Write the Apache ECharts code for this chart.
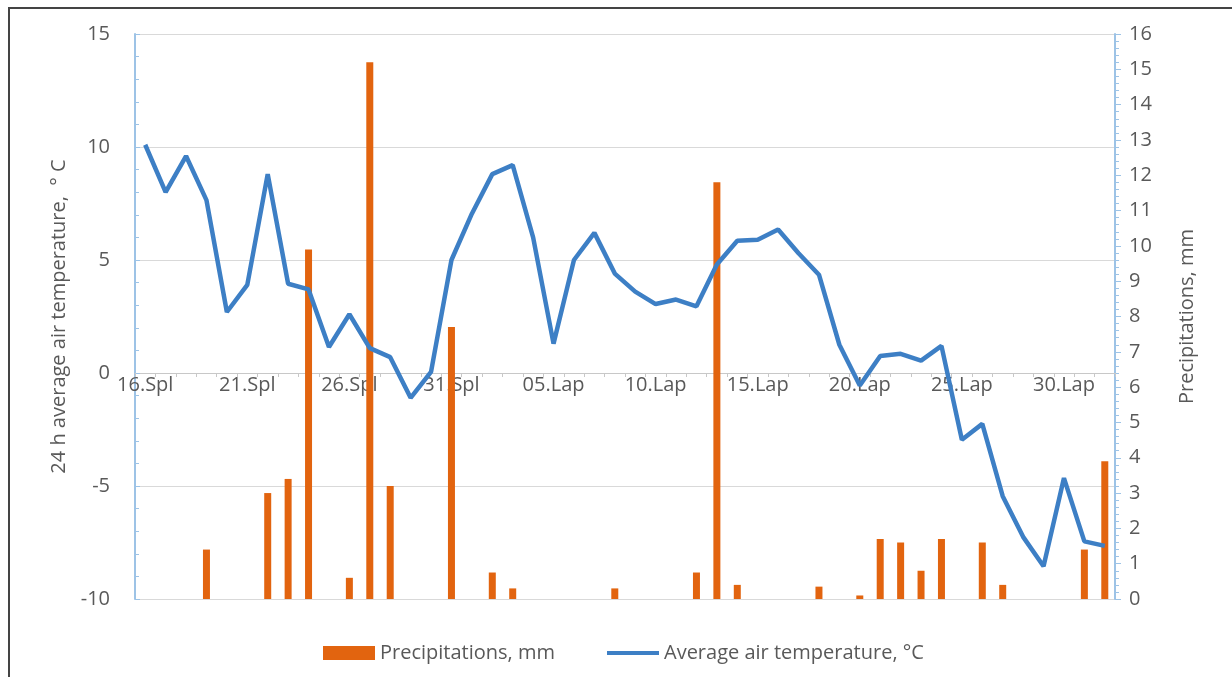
<!DOCTYPE html>
<html>
<head>
<meta charset="utf-8">
<script src="https://cdn.jsdelivr.net/npm/echarts@6/dist/echarts.min.js"></script>
<style>
  html, body { margin: 0; padding: 0; background: #fff; overflow: hidden; }
  #frame { position: absolute; left: 8px; top: 7px; width: 1400px; height: 800px;
           border-left: 2px solid #444; border-top: 2px solid #444; }
  #chart { position: absolute; left: 0; top: 0; width: 1232px; height: 677px; }
</style>
</head>
<body>
<div id="frame"></div>
<div id="chart"></div>
<script>
// days: 16 Oct (Spl) .. 2 Dec (Grd)
const days = [
  '16.Spl', '17.Spl', '18.Spl', '19.Spl', '20.Spl', '21.Spl', '22.Spl', '23.Spl',
  '24.Spl', '25.Spl', '26.Spl', '27.Spl', '28.Spl', '29.Spl', '30.Spl', '31.Spl',
  '01.Lap', '02.Lap', '03.Lap', '04.Lap', '05.Lap', '06.Lap', '07.Lap', '08.Lap',
  '09.Lap', '10.Lap', '11.Lap', '12.Lap', '13.Lap', '14.Lap', '15.Lap', '16.Lap',
  '17.Lap', '18.Lap', '19.Lap', '20.Lap', '21.Lap', '22.Lap', '23.Lap', '24.Lap',
  '25.Lap', '26.Lap', '27.Lap', '28.Lap', '29.Lap', '30.Lap', '01.Grd', '02.Grd'
]

// 24 h average air temperature, °C
const temperature = [
  10.1, 8.0, 9.6, 7.65, 2.7, 3.9, 8.8, 3.95, 3.7, 1.15,
  2.6, 1.1, 0.7, -1.1, 0.05, 5.0, 7.05, 8.8, 9.2, 6.0,
  1.3, 5.0, 6.2, 4.4, 3.6, 3.05, 3.25, 2.95, 4.8, 5.85,
  5.9, 6.35, 5.3, 4.35, 1.25, -0.55, 0.75, 0.85, 0.55, 1.2,
  -2.95, -2.25, -5.45, -7.25, -8.55, -4.65, -7.45, -7.65
]

// precipitations, mm
const precipitation = [
  0, 0, 0, 1.4, 0, 0, 3.0, 3.4, 9.9, 0,
  0.6, 15.2, 3.2, 0, 0, 7.7, 0, 0.75, 0.3, 0,
  0, 0, 0, 0.3, 0, 0, 0, 0.75, 11.8, 0.4,
  0, 0, 0, 0.35, 0, 0.1, 1.7, 1.6, 0.8, 1.7,
  0, 1.6, 0.4, 0, 0, 0, 1.4, 3.9
]

const legendNames = ['Precipitations, mm', 'Average air temperature, °C']

const font = '"Open Sans", sans-serif'
const textColor = '#595959'
const axisBlue = '#9DC3E6'
const barColor = '#E2640F'
const lineColor = '#3D7FC5'

const chart = echarts.init(document.getElementById('chart'))

const option = {
  backgroundColor: 'transparent',
  animation: false,
  textStyle: { fontFamily: font },
  grid: {
    left: 135,
    right: 117,
    top: 34,
    bottom: 78,
  },
  legend: {
    data: [
      { name: legendNames[0], icon: 'rect' },
      {
        name: legendNames[1],
        itemStyle: { opacity: 0 },
        lineStyle: { width: 4, color: lineColor },
      },
    ],
    left: 318,
    top: 638,
    itemWidth: 52,
    itemHeight: 14,
    itemGap: 50,
    textStyle: { color: textColor, fontSize: 20, fontFamily: font },
  },
  xAxis: {
    type: 'category',
    data: days,
    boundaryGap: true,
    position: 'bottom',
    offset: -226, // category axis crosses the temperature axis at 0
    axisLine: {
      onZero: false,
      lineStyle: { color: '#C8C8C8', width: 1 },
    },
    axisTick: {
      show: true,
      interval: 0,
      length: 4,
      lineStyle: { color: '#C8C8C8' },
    },
    axisLabel: {
      interval: 4,
      color: textColor,
      fontSize: 20,
      margin: 2,
      fontFamily: font,
    },
    splitLine: { show: false },
  },
  yAxis: [
    {
      type: 'value',
      min: -10,
      max: 15,
      interval: 5,
      name: '24 h average air temperature,  ° C',
      nameLocation: 'middle',
      nameGap: 64,
      nameTextStyle: { color: textColor, fontSize: 20, fontFamily: font },
      axisLine: { show: true, lineStyle: { color: axisBlue, width: 2 } },
      axisTick: { show: true, inside: true, length: 5, lineStyle: { color: axisBlue } },
      minorTick: { show: true, splitNumber: 5, length: 4, lineStyle: { color: axisBlue } },
      axisLabel: { color: textColor, fontSize: 20, margin: 25, fontFamily: font },
      splitLine: { show: true, lineStyle: { color: '#D9D9D9', width: 1 } },
    },
    {
      type: 'value',
      min: 0,
      max: 16,
      interval: 1,
      name: 'Precipitations, mm',
      nameLocation: 'middle',
      nameGap: 62,
      nameTextStyle: { color: textColor, fontSize: 20, fontFamily: font },
      axisLine: { show: true, lineStyle: { color: axisBlue, width: 2 } },
      axisTick: { show: true, length: 6, lineStyle: { color: axisBlue } },
      minorTick: { show: true, splitNumber: 5, length: 4, lineStyle: { color: axisBlue } },
      axisLabel: { color: textColor, fontSize: 20, margin: 14, fontFamily: font },
      splitLine: { show: false },
    },
  ],
  series: [
    {
      name: legendNames[0],
      type: 'bar',
      yAxisIndex: 1,
      data: precipitation,
      barWidth: 7,
      itemStyle: { color: barColor },
      zlevel: 1, // bars and line sit above the date labels, as in the original
      z: 2,
    },
    {
      name: legendNames[1],
      type: 'line',
      yAxisIndex: 0,
      data: temperature,
      symbol: 'none',
      lineStyle: { color: lineColor, width: 4.5 },
      itemStyle: { color: lineColor },
      zlevel: 1,
      z: 3,
    },
  ],
}

chart.setOption(option)
</script>
</body>
</html>
